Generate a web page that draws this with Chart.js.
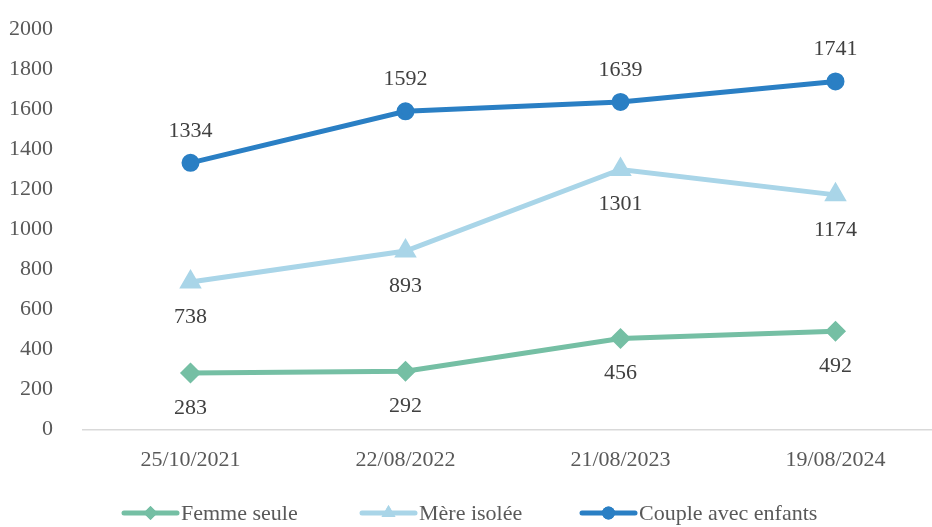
<!DOCTYPE html>
<html>
<head>
<meta charset="utf-8">
<script src="https://cdn.jsdelivr.net/npm/chart.js@4.4.1/dist/chart.umd.min.js"></script>
<style>
  html, body { margin: 0; padding: 0; background: #fff; overflow: hidden; }
  #cadre { position: relative; width: 932px; height: 527px; overflow: hidden; }
  #graphique { position: absolute; left: 0; top: 0; }
</style>
</head>
<body>
<div id="cadre"><canvas id="graphique" width="956" height="527"></canvas></div>
<script>
// Données
const dates = ['25/10/2021', '22/08/2022', '21/08/2023', '19/08/2024'];
const femmeSeule = [283, 292, 456, 492];
const mereIsolee = [738, 893, 1301, 1174];
const coupleEnfants = [1334, 1592, 1639, 1741];
const ticksY = [0, 200, 400, 600, 800, 1000, 1200, 1400, 1600, 1800, 2000];

const police = '"Liberation Serif", "DejaVu Serif", serif';

// étiquettes de valeurs au-dessus / en dessous des points
const etiquettes = {
    id: 'etiquettes',
    afterDatasetsDraw(chart) {
        const ctx = chart.ctx;
        ctx.save();
        ctx.font = '22px ' + police;
        ctx.fillStyle = '#404040';
        ctx.textAlign = 'center';
        ctx.textBaseline = 'middle';
        chart.data.datasets.forEach((ds, i) => {
            const meta = chart.getDatasetMeta(i);
            meta.data.forEach((pt, j) => {
                const dy = ds.labelPos === 'above' ? -32 : 35;
                ctx.fillText(ds.data[j], pt.x, pt.y + dy);
            });
        });
        ctx.restore();
    }
};

// légende avec trait + marqueur, comme dans Excel
const departsLegende = [122, 360, 580];
const legende = {
    id: 'legende',
    afterDraw(chart) {
        const ctx = chart.ctx;
        ctx.save();
        ctx.font = '22px ' + police;
        const trait = 57, y = 513;
        chart.data.datasets.forEach((ds, i) => {
            const x = departsLegende[i];
            ctx.strokeStyle = ds.borderColor;
            ctx.lineWidth = 5;
            ctx.lineCap = 'round';
            ctx.beginPath();
            ctx.moveTo(x + 2, y);
            ctx.lineTo(x + trait - 2, y);
            ctx.stroke();
            ctx.fillStyle = ds.borderColor;
            ctx.beginPath();
            Chart.helpers.drawPoint(ctx, {
                pointStyle: ds.pointStyle,
                radius: ds.pointRadius,
                rotation: 0,
                borderWidth: 0
            }, x + trait / 2, y);
            ctx.fill();
            ctx.fillStyle = '#595959';
            ctx.textBaseline = 'middle';
            ctx.textAlign = 'left';
            ctx.fillText(ds.label, x + trait + 2, y + 1);
        });
        ctx.restore();
    }
};

const ctx = document.getElementById('graphique').getContext('2d');
new Chart(ctx, {
    type: 'line',
    data: {
        labels: dates,
        datasets: [{
            label: 'Femme seule',
            data: femmeSeule,
            borderColor: '#75bfa4',
            backgroundColor: '#75bfa4',
            borderWidth: 5,
            pointStyle: 'rectRot',
            pointRadius: 7,
            pointHoverRadius: 7,
            labelPos: 'below'
        }, {
            label: 'Mère isolée',
            data: mereIsolee,
            borderColor: '#a9d5e8',
            backgroundColor: '#a9d5e8',
            borderWidth: 5,
            pointStyle: 'triangle',
            pointRadius: 8,
            pointHoverRadius: 8,
            labelPos: 'below'
        }, {
            label: 'Couple avec enfants',
            data: coupleEnfants,
            borderColor: '#2a7fc4',
            backgroundColor: '#2a7fc4',
            borderWidth: 5,
            pointStyle: 'circle',
            pointRadius: 6.5,
            pointHoverRadius: 6.5,
            labelPos: 'above'
        }]
    },
    options: {
        responsive: false,
        animation: false,
        layout: { padding: { top: 28, bottom: 45, left: 0, right: 0 } },
        plugins: {
            legend: { display: false },
            tooltip: { enabled: false }
        },
        scales: {
            x: {
                offset: true,
                grid: { display: false, offset: true },
                border: { color: '#d9d9d9', width: 1.5 },
                ticks: {
                    color: '#595959',
                    font: { family: police, size: 22 },
                    padding: 9,
                    maxRotation: 0
                }
            },
            y: {
                min: 0,
                max: 2000,
                afterBuildTicks: axis => { axis.ticks = ticksY.map(v => ({ value: v })); },
                afterFit: axis => { axis.width = 83; },
                grid: { display: false },
                border: { display: false },
                ticks: {
                    color: '#595959',
                    font: { family: police, size: 22, lineHeight: 0.7 },
                    padding: 22,
                    callback: v => String(v)
                }
            }
        }
    },
    plugins: [etiquettes, legende]
});
</script>
</body>
</html>
